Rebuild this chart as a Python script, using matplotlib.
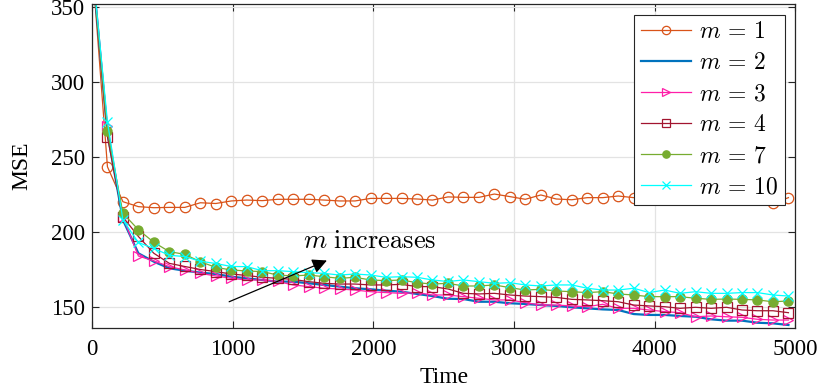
import numpy as np
import matplotlib.pyplot as plt

plt.rcParams['font.family'] = ['Liberation Serif', 'DejaVu Serif']
plt.rcParams['mathtext.fontset'] = 'cm'

# sample times (every 110 steps)
time = np.arange(0, 4951, 110)

mse_m1 = [380, 243.5, 220.2, 216.9, 216.2, 216.4, 216.4, 219.5, 219.0, 220.7,
          221.3, 220.9, 221.8, 221.8, 221.8, 221.3, 220.7, 220.7, 222.4, 222.4,
          222.4, 222.0, 221.3, 223.4, 223.1, 223.1, 225.3, 223.6, 221.8, 224.7,
          222.0, 221.5, 222.9, 222.9, 224.0, 222.9, 222.5, 223.0, 222.5, 223.0,
          222.5, 223.0, 222.5, 222.8, 219.1, 222.9]
mse_m2 = [380, 266.0, 208.0, 185.8, 180.2, 175.8, 174.2, 172.9, 172.0, 170.2,
          169.1, 168.0, 166.9, 166.9, 165.8, 164.7, 163.6, 162.5, 161.8, 160.9,
          160.2, 158.7, 157.3, 155.5, 155.3, 153.5, 153.5, 152.5, 152.0, 151.3,
          150.7, 149.8, 149.1, 148.4, 148.0, 145.3, 144.7, 144.7, 144.0, 143.5,
          141.8, 140.9, 140.9, 139.5, 139.1, 138.0]
mse_m3 = [380, 270.7, 210.0, 184.0, 180.7, 176.9, 174.7, 172.4, 170.7, 169.1,
          168.0, 168.0, 167.0, 164.7, 163.6, 162.5, 162.0, 161.3, 160.2, 159.6,
          159.1, 159.6, 158.0, 158.0, 156.9, 155.8, 154.7, 154.7, 152.9, 151.3,
          151.3, 150.7, 150.2, 151.8, 149.1, 149.1, 148.0, 146.9, 146.2, 143.5,
          144.0, 143.5, 143.1, 141.8, 141.3, 141.3]
mse_m4 = [380, 263.5, 210.0, 197.0, 185.8, 179.1, 177.0, 175.0, 173.6, 172.0,
          171.0, 169.8, 169.1, 168.4, 166.9, 165.8, 165.3, 165.3, 164.7, 164.7,
          165.1, 163.6, 163.6, 162.0, 159.1, 158.7, 159.1, 158.0, 157.3, 156.9,
          156.4, 155.1, 154.7, 154.2, 153.5, 151.3, 150.7, 150.2, 149.1, 149.8,
          149.1, 149.8, 148.0, 147.5, 147.5, 146.2]
mse_m7 = [380, 267.5, 212.5, 201.5, 193.1, 186.9, 185.1, 180.2, 176.4, 174.7,
          174.0, 173.6, 171.3, 170.7, 171.3, 170.2, 169.1, 169.8, 168.0, 167.6,
          168.0, 166.2, 165.3, 165.8, 164.0, 164.0, 164.7, 162.9, 161.3, 161.8,
          160.7, 160.2, 159.6, 160.2, 158.7, 158.0, 156.9, 156.9, 156.9, 155.8,
          155.1, 155.3, 155.1, 154.7, 153.5, 154.0]
mse_m10 = [380, 273.5, 208.0, 193.0, 189.0, 184.5, 183.6, 180.5, 179.0, 177.0,
           176.9, 174.2, 174.2, 173.6, 172.9, 172.4, 171.3, 172.0, 171.3, 169.8,
           170.2, 169.8, 168.0, 167.0, 168.0, 166.9, 165.8, 166.2, 164.7, 164.0,
           164.7, 164.7, 162.5, 161.3, 161.3, 162.5, 159.6, 161.3, 159.1, 160.2,
           159.1, 159.1, 159.6, 159.6, 158.0, 157.3]

fig = plt.figure(figsize=(8.3, 3.9), dpi=100)
ax = fig.add_axes([0.1108, 0.159, 0.8476, 0.8307])

ax.plot(time, mse_m1, color='#D95319', lw=0.9, marker='o', ms=7.5,
        mfc='none', mew=0.9, label=r'$m\,=\,1$')
ax.plot(time, mse_m2, color='#0072BD', lw=1.6, label=r'$m\,=\,2$')
ax.plot(time, mse_m3, color='#FF1FA8', lw=0.9, marker='>', ms=7.5,
        mfc='none', mew=0.9, label=r'$m\,=\,3$')
ax.plot(time, mse_m4, color='#A2142F', lw=0.9, marker='s', ms=6.5,
        mfc='none', mew=0.9, label=r'$m\,=\,4$')
ax.plot(time, mse_m7, color='#77AC30', lw=0.9, marker='o', ms=6.5,
        label=r'$m\,=\,7$')
ax.plot(time, mse_m10, color='#00FFFF', lw=0.9, marker='x', ms=6.5,
        mew=0.9, label=r'$m\,=\,10$')

ax.set_xlim(0, 5000)
ax.set_ylim(136, 352)
ax.set_xticks(np.arange(0, 5001, 1000))
ax.set_yticks([150, 200, 250, 300, 350])
ax.grid(True, color='#e3e3e3', lw=0.9)
ax.set_axisbelow(True)
ax.tick_params(direction='in', top=True, right=True, labelsize=16.5,
               length=5, color='#262626')
ax.tick_params(axis='x', pad=8)
ax.tick_params(axis='y', pad=5)
for sp in ax.spines.values():
    sp.set_color('#262626')
    sp.set_linewidth(0.9)
ax.set_xlabel('Time', fontsize=17, labelpad=5)
ax.set_ylabel('MSE', fontsize=17, labelpad=13)

ax.annotate('', xy=(1670, 181), xytext=(975, 153.5),
            arrowprops=dict(arrowstyle='-|>', color='black', lw=0.9,
                            mutation_scale=22, shrinkA=0, shrinkB=0))
ax.text(1500, 193.5, r'$m\ \mathrm{increases}$', fontsize=19, va='center')

leg = ax.legend(loc='upper right', fontsize=17, handlelength=2.1,
                borderaxespad=0.45, fancybox=False, framealpha=1,
                edgecolor='#262626', borderpad=0.3, labelspacing=0.4,
                handletextpad=0.35, markerscale=0.8)
leg.get_frame().set_linewidth(0.8)

fig.savefig('out.png', dpi=100)
